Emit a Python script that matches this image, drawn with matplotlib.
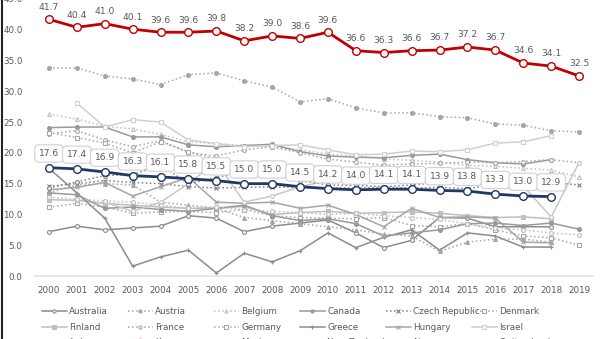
import matplotlib
matplotlib.use("Agg")
import matplotlib.pyplot as plt
import numpy as np
from matplotlib.lines import Line2D

nan = np.nan

years = list(range(2000, 2020))

korea = [41.7, 40.4, 41.0, 40.1, 39.6, 39.6, 39.8, 38.2, 39.0, 38.6,
         39.6, 36.6, 36.3, 36.6, 36.7, 37.2, 36.7, 34.6, 34.1, 32.5]
oecd = [17.6, 17.4, 16.9, 16.3, 16.1, 15.8, 15.5, 15.0, 15.0, 14.5,
        14.2, 14.0, 14.1, 14.1, 13.9, 13.8, 13.3, 13.0, 12.9, nan]

# gray country series
australia = [7.2, 8.1, 7.5, 7.8, 8.1, 9.8, 9.4, 7.2, 8.1, 8.6,
             9.1, 7.0, 4.6, 5.8, 9.5, 9.4, 8.0, 8.0, 8.0, nan]
austria = [33.8, 33.8, 32.5, 32.0, 31.1, 32.7, 33.0, 31.7, 30.7, 28.3,
           28.8, 27.3, 26.5, 26.5, 25.9, 25.7, 24.7, 24.5, 23.6, 23.4]
belgium = [26.3, 25.5, 24.3, 23.9, 23.0, 21.8, 21.5, 21.2, 21.0, 20.5,
           19.8, 19.5, 19.0, 18.8, 18.5, 18.0, 17.8, 17.5, 17.2, 16.1]
canada = [24.1, 24.2, 24.2, 22.6, 22.6, 21.3, 21.0, 21.2, 21.4, 20.2,
          19.5, 19.3, 19.2, 19.6, 19.8, 18.9, 18.4, 18.2, 18.9, nan]
czech = [14.6, 15.0, 15.5, 15.2, 15.0, 14.5, 14.3, 14.4, 14.5, 14.4,
         14.3, 14.3, 14.4, 14.3, 14.4, 14.2, 14.8, 15.0, 15.2, 14.8]
denmark = [11.2, 11.8, 11.2, 10.2, 10.4, 10.5, 10.3, 10.8, 9.8, 9.5,
           9.4, 9.3, 9.5, 8.2, 8.0, 8.5, 7.5, 6.5, 6.2, 5.0]
finland = [12.4, 12.3, 11.8, 11.5, 11.2, 11.0, 11.0, 11.3, 10.0, 10.3,
           10.5, 10.2, 10.3, 10.4, 10.2, 9.8, 9.5, 9.6, 9.3, nan]
france = [23.1, 23.6, 22.1, 21.0, 22.0, 20.0, 19.5, 20.5, 21.0, 20.0,
          19.0, 18.5, 18.0, 18.2, 18.3, 18.5, 18.4, 18.6, 18.9, 18.4]
germany = [23.3, 22.5, 21.6, 20.0, 21.8, 20.2, 19.0, 18.0, 17.0, 16.5,
           16.0, 16.2, 16.8, 17.0, 16.5, 16.2, 16.0, 15.8, 15.5, nan]
greece = [17.5, 13.5, 9.4, 1.6, 3.1, 4.2, 0.5, 3.7, 2.3, 4.1,
          7.0, 4.6, 6.3, 7.5, 4.2, 7.0, 6.5, 4.7, 4.7, nan]
hungary = [14.0, 14.4, 15.2, 13.0, 14.5, 16.0, 12.0, 11.8, 12.0, 11.0,
           11.5, 10.0, 8.0, 11.0, 9.5, 9.6, 9.4, 5.5, 5.4, nan]
israel = [nan, 28.1, 24.2, 25.4, 25.0, 22.1, 21.5, 21.0, 21.2, 21.3,
          20.5, 19.7, 19.8, 20.3, 20.2, 20.5, 21.6, 21.8, 22.8, nan]
italy = [13.5, 13.2, 11.0, 11.2, 10.8, 10.5, 11.0, 11.5, 9.8, 9.0,
         9.3, 8.5, 6.5, 7.0, 7.5, 8.5, 8.6, 8.2, 8.6, 7.6]
mexico = [13.5, 14.8, 15.0, 14.8, 12.0, 11.5, 11.0, 9.5, 9.0, 8.5,
          8.0, 7.5, 6.8, 6.5, 4.0, 5.5, 6.0, 6.0, 5.5, nan]
new_zealand = [nan, nan, 12.0, 10.5, 12.0, 15.0, 18.5, 12.0, 13.0, 14.5,
               15.5, 16.0, 15.5, 16.5, 16.8, 16.8, 16.8, 14.6, 9.6, 18.4]
norway = [14.3, 15.3, 16.3, 16.5, 18.0, 15.0, 16.0, 17.0, 16.5, 15.5,
          14.8, 14.7, 14.5, 14.8, 15.2, 15.5, 15.0, 14.6, 14.4, nan]
switzerland = [12.8, 12.5, 12.2, 12.0, 11.5, 11.0, 11.2, 10.8, 10.5, 10.3,
               10.0, 10.2, 9.8, 9.5, 9.2, 8.5, 7.8, 7.5, 7.0, 6.7]

_TEXT = '#595959'
_RED = '#c00000'
_BLUE = '#1f3864'
_FS = 6.3

# name, values, color, linestyle, marker, marker face
series = [
    ("Australia", australia, '#8c8c8c', '-', 'o', 'white'),
    ("Austria", austria, '#a6a6a6', ':', 'o', '#a6a6a6'),
    ("Belgium", belgium, '#bfbfbf', ':', '^', 'white'),
    ("Canada", canada, '#9a9a9a', '-', 'o', '#9a9a9a'),
    ("Czech Republic", czech, '#7f7f7f', ':', 'x', '#7f7f7f'),
    ("Denmark", denmark, '#a6a6a6', ':', 's', 'white'),
    ("Finland", finland, '#bfbfbf', '-', 's', '#bfbfbf'),
    ("France", france, '#a6a6a6', ':', 'o', 'white'),
    ("Germany", germany, '#a6a6a6', ':', 's', 'white'),
    ("Greece", greece, '#8c8c8c', '-', '+', '#8c8c8c'),
    ("Hungary", hungary, '#a6a6a6', '-', 'x', '#a6a6a6'),
    ("Israel", israel, '#d0d0d0', '-', 's', 'white'),
    ("Italy", italy, '#9a9a9a', '-', 'o', '#9a9a9a'),
    ("Korea", korea, _RED, '-', 'o', 'white'),
    ("Mexico", mexico, '#a6a6a6', ':', '^', '#a6a6a6'),
    ("New Zealand", new_zealand, '#c8c8c8', '-', 'o', 'white'),
    ("Norway", norway, '#7f7f7f', ':', 'o', 'white'),
    ("Switzerland", switzerland, '#bfbfbf', ':', 'o', 'white'),
    ("OECD average", oecd, _BLUE, '-', 'o', 'white'),
]

fig = plt.figure(figsize=(6, 3.39), dpi=100)
ax = fig.add_axes([35 / 600, 63 / 339, 558 / 600, 277 / 339])

handles = []
for name, vals, col, ls, mk, mfc in series:
    if name in ("Korea", "OECD average"):
        continue
    h, = ax.plot(years, vals, color=col, linestyle=ls, lw=1.1, marker=mk,
                 markersize=2.8, markerfacecolor=mfc, markeredgecolor=col,
                 markeredgewidth=0.8, label=name, zorder=2)
    handles.append(h)

hk, = ax.plot(years, korea, color=_RED, lw=2, marker='o', markersize=5.5,
              markerfacecolor='white', markeredgecolor=_RED, markeredgewidth=1,
              label="Korea", zorder=5)
ho, = ax.plot(years, oecd, color=_BLUE, lw=2, marker='o', markersize=5.5,
              markerfacecolor='white', markeredgecolor=_BLUE, markeredgewidth=1,
              label="OECD average", zorder=5)
handles.insert(13, hk)
handles.append(ho)

# data labels
for x, v in zip(years, korea):
    ax.annotate("%.1f" % v, (x, v), xytext=(0, 5.5), textcoords='offset points',
                ha='center', va='bottom', fontsize=_FS + 0.3, color=_TEXT, zorder=6)
for x, v in zip(years, oecd):
    if np.isnan(v):
        continue
    ax.annotate("%.1f" % v, (x, v), xytext=(0, 7), textcoords='offset points',
                ha='center', va='bottom', fontsize=_FS + 0.3, color=_TEXT, zorder=7,
                bbox=dict(boxstyle='round,pad=0.45', fc='white', ec='#d0d0d0', lw=0.8))

ax.set_xlim(1999.5, 2019.5)
ax.set_ylim(0, 45)
ax.set_yticks(np.arange(0, 46, 5))
ax.set_yticklabels(["%.1f" % t for t in np.arange(0, 46, 5)])
ax.set_xticks(years)
ax.set_xticklabels([str(y) for y in years])
ax.tick_params(axis='both', length=0, labelsize=_FS, colors=_TEXT)
ax.tick_params(axis='x', pad=7)
ax.tick_params(axis='y', pad=9)
for s in ('top', 'right', 'left'):
    ax.spines[s].set_visible(False)
ax.spines['bottom'].set_color('#e3e3e3')
ax.spines['bottom'].set_linewidth(1.2)
ax.set_facecolor('none')

# legend, fixed column width like the source
col_x = [42, 128, 214, 300, 386, 472]
for c in range(6):
    hs = handles[c::6]
    fig.legend(hs, [h.get_label() for h in hs], loc='upper left',
               bbox_to_anchor=(col_x[c] / 600, 1 - 307 / 339),
               frameon=False, fontsize=_FS, labelcolor=_TEXT,
               handlelength=2.8, handletextpad=0.3, labelspacing=0.75,
               borderpad=0, borderaxespad=0, markerscale=0.8)

# dark left border
fig.add_artist(Line2D([0.004, 0.004], [0, 1], color='#222222', lw=1.5,
                      transform=fig.transFigure))

fig.savefig("out.png", dpi=100)
